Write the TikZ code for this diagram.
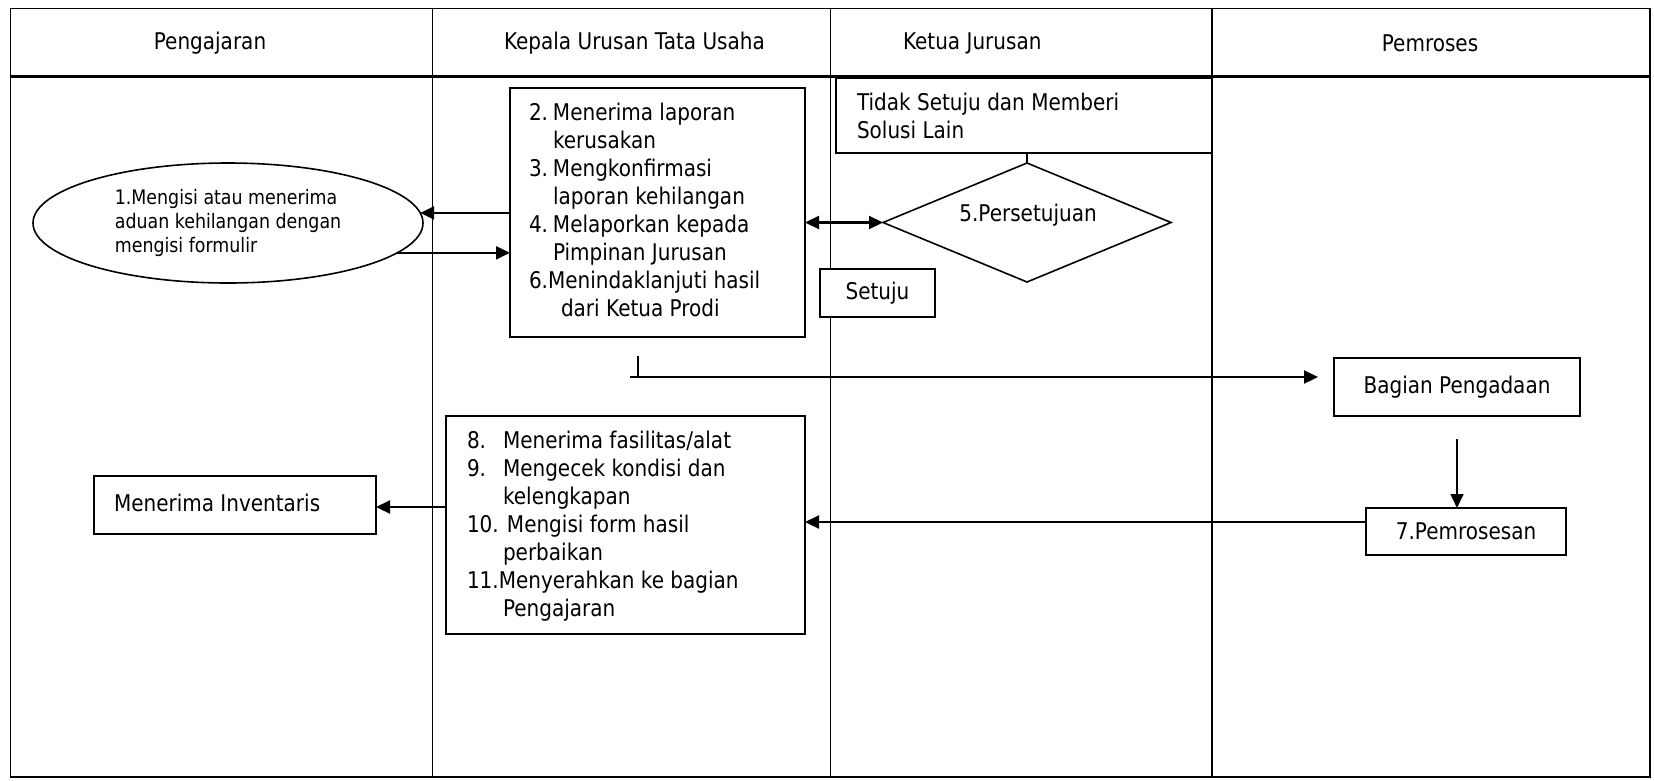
\documentclass[tikz,border=0pt]{standalone}
\usepackage{fontspec}
\setmainfont{DejaVu Sans}[FakeStretch=0.87]
\usetikzlibrary{shapes.geometric,arrows.meta}
\newcommand{\numbx}[2]{\makebox[#1][l]{#2}}
\begin{document}
\begin{tikzpicture}[x=1pt,y=-1pt,
  every node/.style={inner sep=0pt, outer sep=0pt, font=\fontsize{23}{28}\selectfont},
  box/.style={draw, line width=1.6pt, fill=white, rectangle},
  lane/.style={line width=1.6pt},
  tipA/.tip={Triangle[length=14pt,width=13pt]},
  arr/.style={line width=2.2pt, -tipA},
]
\useasboundingbox (0,0) rectangle (1654,780);
\fill[white] (0,0) rectangle (1654,780);
% swimlane frame
\draw[lane] (10.5,8.5) rectangle (1650,777);
\draw[line width=2.5pt] (10.5,76.5) -- (1650,76.5);
\draw[lane] (432.5,8.5) -- (432.5,777);
\draw[lane] (830.5,8.5) -- (830.5,777);
\draw[lane] (1212,8.5) -- (1212,777);
% headers
\node (h1) at (210,43) {Pengajaran};
\node[anchor=west] (h2) at (504,43) {Kepala Urusan Tata Usaha};
\node[anchor=west] (h3) at (903,43) {Ketua Jurusan};
\node (h4) at (1430,43) {Pemroses};
% ellipse
\node[draw, ellipse, line width=1.6pt, fill=white, minimum width=390pt, minimum height=120pt,
      align=left, font=\fontsize{20}{24}\selectfont] (E) at (228,223)
  {1.Mengisi atau menerima\\aduan kehilangan dengan\\mengisi formulir};
% box A
\node[box, minimum width=295pt, minimum height=249pt] (A) at (657.5,212.5) {};
\node[anchor=north west, align=left] (At) at (529,103.5)
  {\numbx{24pt}{2.}Menerima laporan\\
   \numbx{24pt}{}kerusakan\\
   \numbx{24pt}{3.}Mengkonfirmasi\\
   \numbx{24pt}{}laporan kehilangan\\
   \numbx{24pt}{4.}Melaporkan kepada\\
   \numbx{24pt}{}Pimpinan Jurusan\\
   6.Menindaklanjuti hasil\\
   \numbx{32pt}{}dari Ketua Prodi};
% Tidak setuju box
\node[box, minimum width=376pt, minimum height=75pt] (T) at (1024,115.5) {};
\node[anchor=north west, align=left] (Tt) at (857,93) {Tidak Setuju dan Memberi\\Solusi Lain};
% diamond
\node[draw, diamond, line width=1.6pt, fill=white, minimum width=288pt, minimum height=119pt,
      shape aspect=2.4] (D) at (1027,222.5) {};
\node (Dt) at (1028,215) {5.Persetujuan};
% Setuju
\node[box, minimum width=115pt, minimum height=48pt] (S) at (877.5,293) {Setuju};
% Bagian Pengadaan
\node[box, minimum width=246pt, minimum height=58pt] (BP) at (1457,387) {Bagian Pengadaan};
% Pemrosesan
\node[box, minimum width=200pt, minimum height=47pt] (PR) at (1466,531.5) {7.Pemrosesan};
% box B
\node[box, minimum width=359pt, minimum height=218pt] (B) at (625.5,525) {};
\node[anchor=north west, align=left] (Bt) at (467,431)
  {\numbx{36pt}{8.}Menerima fasilitas/alat\\
   \numbx{36pt}{9.}Mengecek kondisi dan\\
   \numbx{36pt}{}kelengkapan\\
   \numbx{40pt}{10.}Mengisi form hasil\\
   \numbx{36pt}{}perbaikan\\
   11.Menyerahkan ke bagian\\
   \numbx{36pt}{}Pengajaran};
% Menerima Inventaris
\node[box, minimum width=282pt, minimum height=58pt] (I) at (235,505) {};
\node[anchor=west] (It) at (114,503) {Menerima Inventaris};
% connectors
\draw[arr] (A.west |- E.3) -- (E.3);
\draw[arr] (E.-10) -- (E.-10 -| A.west);
\draw[line width=2.2pt, tipA-tipA] (A.east |- D.west) -- (D.west);
\draw[line width=1.2pt] (D.north |- T.south) -- (D.north);
\coordinate (tk) at (638,356);
\coordinate (hs) at (630,377);
\draw[line width=1.6pt] (tk) -- (tk |- hs);
\draw[arr, shorten >=16pt] (hs) -- (BP.west |- hs);
\draw[line width=1.6pt, -tipA, shorten <=23pt] (BP.south) -- (BP.south |- PR.north);
\coordinate (p7) at ([yshift=9.5pt]PR.west);
\draw[arr] (p7) -- (B.east |- p7);
\coordinate (ie) at ([yshift=-2pt]I.east);
\draw[arr] (ie -| B.west) -- (ie);
\end{tikzpicture}
\end{document}
